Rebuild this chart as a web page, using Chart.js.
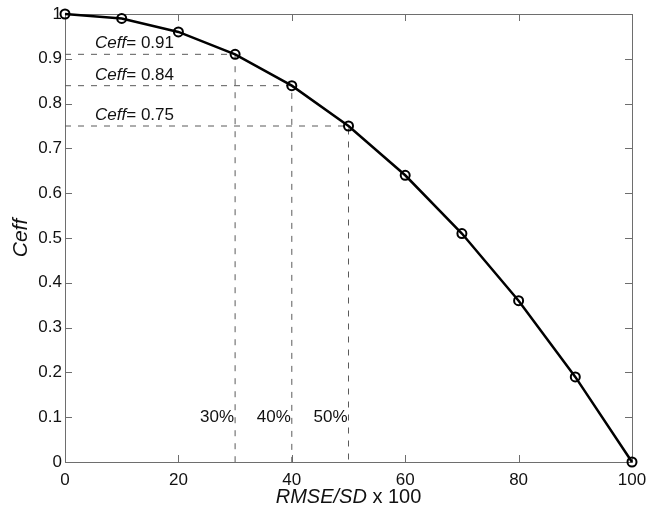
<!DOCTYPE html>
<html>
<head>
<meta charset="utf-8">
<script src="https://cdn.jsdelivr.net/npm/chart.js@4.4.1/dist/chart.umd.min.js"></script>
<style>
  html, body { margin: 0; padding: 0; background: #fff; }
  #wrap { width: 646px; height: 507px; }
</style>
</head>
<body>
<div id="wrap"><canvas id="ceffChart"></canvas></div>
<script>
// values
const rmsePct = [0, 10, 20, 30, 40, 50, 60, 70, 80, 90, 100];
const ceffValues = [1, 0.99, 0.96, 0.91, 0.84, 0.75, 0.64, 0.51, 0.36, 0.19, 0];

// dashed guides
const guideRmse = [30, 40, 50];
const guideCeff = [0.91, 0.84, 0.75];
const guidePctLabels = ['30%', '40%', '50%'];

const xTickValues = [0, 20, 40, 60, 80, 100];
const yTickValues = [0, 0.1, 0.2, 0.3, 0.4, 0.5, 0.6, 0.7, 0.8, 0.9, 1];

const FONT = '"Liberation Sans", Arial, Helvetica, sans-serif';
const FRAME = '#6e6e6e';
const TEXT = '#111';

const curve = rmsePct.map((x, i) => ({ x, y: ceffValues[i] }));

const guideSets = guideRmse.map((r, i) => ({
    data: [{ x: 0, y: guideCeff[i] }, { x: r, y: guideCeff[i] }, { x: r, y: 0 }],
    borderColor: '#5a5a5a',
    borderWidth: 1,
    borderDash: [6, 7],
    pointRadius: 0,
    fill: false,
    order: 2
}));

const frameAndLabels = {
    id: 'frameAndLabels',
    beforeDatasetsDraw(chart) {
        const { ctx, chartArea: a, scales: { x, y } } = chart;
        ctx.save();
        ctx.strokeStyle = FRAME;
        ctx.lineWidth = 1;
        ctx.strokeRect(a.left + 0.5, a.top + 0.5, a.right - a.left, a.bottom - a.top);
        ctx.beginPath();
        const len = 7;
        xTickValues.forEach(v => {
            const px = Math.round(x.getPixelForValue(v)) + 0.5;
            ctx.moveTo(px, a.bottom); ctx.lineTo(px, a.bottom - len);
            ctx.moveTo(px, a.top); ctx.lineTo(px, a.top + len);
        });
        yTickValues.forEach(v => {
            const py = Math.round(y.getPixelForValue(v)) + 0.5;
            ctx.moveTo(a.left, py); ctx.lineTo(a.left + len, py);
            ctx.moveTo(a.right, py); ctx.lineTo(a.right - len, py);
        });
        ctx.stroke();
        ctx.restore();
    },
    afterDatasetsDraw(chart) {
        const { ctx, chartArea: a, scales: { x, y } } = chart;
        ctx.save();
        ctx.fillStyle = TEXT;
        ctx.textBaseline = 'alphabetic';
        ctx.textAlign = 'left';

        // Ceff= annotations
        guideCeff.forEach(c => {
            const px = x.getPixelForValue(5.3);
            const py = y.getPixelForValue(c) - 6;
            ctx.font = 'italic 17px ' + FONT;
            ctx.fillText('Ceff', px, py);
            const w = ctx.measureText('Ceff').width;
            ctx.font = '17px ' + FONT;
            ctx.fillText('= ' + c.toFixed(2), px + w, py);
        });

        // percent labels
        ctx.font = '17px ' + FONT;
        ctx.textAlign = 'right';
        ctx.textBaseline = 'middle';
        guideRmse.forEach((r, i) => {
            ctx.fillText(guidePctLabels[i], x.getPixelForValue(r) - 1, y.getPixelForValue(0.1));
        });

        // x-axis title, mixed italic / upright
        ctx.textBaseline = 'alphabetic';
        ctx.textAlign = 'left';
        ctx.font = 'italic 20px ' + FONT;
        const t1 = 'RMSE/SD';
        const w1 = ctx.measureText(t1).width;
        ctx.font = '20px ' + FONT;
        const t2 = ' x 100';
        const w2 = ctx.measureText(t2).width;
        const cx = (a.left + a.right) / 2;
        const start = cx - (w1 + w2) / 2;
        ctx.font = 'italic 20px ' + FONT;
        ctx.fillText(t1, start, 503);
        ctx.font = '20px ' + FONT;
        ctx.fillText(t2, start + w1, 503);
        ctx.restore();
    }
};

new Chart(document.getElementById('ceffChart'), {
    type: 'line',
    data: {
        datasets: [{
            data: curve,
            borderColor: '#000',
            borderWidth: 2.5,
            pointRadius: 4.5,
            pointBorderWidth: 2,
            pointBackgroundColor: 'rgba(255,255,255,0)',
            pointBorderColor: '#000',
            tension: 0,
            clip: false,
            order: 1
        }, ...guideSets]
    },
    options: {
        responsive: true,
        maintainAspectRatio: false,
        animation: false,
        events: [],
        layout: { padding: { top: 14, right: 14, left: 0, bottom: 0 } },
        plugins: { legend: { display: false }, tooltip: { enabled: false } },
        scales: {
            x: {
                type: 'linear',
                min: 0,
                max: 100,
                afterBuildTicks: s => { s.ticks = xTickValues.map(v => ({ value: v })); },
                afterFit: s => { s.height = 45; s.paddingLeft = 0; s.paddingRight = 0; },
                grid: { display: false, drawTicks: false },
                border: { display: false },
                ticks: { color: TEXT, font: { family: FONT, size: 17 }, padding: 8, maxRotation: 0 }
            },
            y: {
                type: 'linear',
                min: 0,
                max: 1,
                afterBuildTicks: s => { s.ticks = yTickValues.map(v => ({ value: v })); },
                afterFit: s => { s.width = 65; s.paddingTop = 0; s.paddingBottom = 0; },
                grid: { display: false, drawTicks: false },
                border: { display: false },
                ticks: {
                    color: TEXT,
                    font: { family: FONT, size: 17 },
                    padding: 3,
                    callback: v => String(Number(v.toFixed(1)))
                },
                title: {
                    display: true,
                    text: 'Ceff',
                    color: TEXT,
                    font: { family: FONT, size: 21, style: 'italic' },
                    padding: { top: 9, bottom: 0 }
                }
            }
        }
    },
    plugins: [frameAndLabels]
});
</script>
</body>
</html>
